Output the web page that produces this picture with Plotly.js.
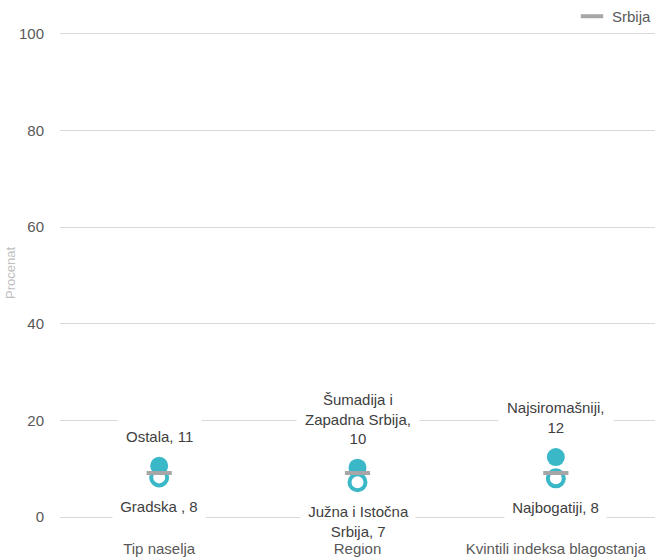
<!DOCTYPE html>
<html>
<head>
<meta charset="utf-8">
<script src="https://cdn.plot.ly/plotly-3.0.1.min.js"></script>
<style>body{margin:0;padding:0;background:#fff}#chart{width:657px;height:559px}</style>
</head>
<body>
<div id="chart"></div>
<script>
const categories = ["Tip naselja", "Region", "Kvintili indeksa blagostanja"];
const highValues = [10.6, 10.2, 12.4];
const lowValues = [8.2, 7.2, 8.0];
const srbijaValues = [9.1, 9.1, 9.1];
const highLabels = ["Ostala, 11", "Šumadija i<br>Zapadna Srbija,<br>10", "Najsiromašniji,<br>12"];
const lowLabels = ["Gradska , 8", "Južna i Istočna<br>Srbija, 7", "Najbogatiji, 8"];

const teal = "#3bb8c7";
const grey = "#a6a6a6";
const font = "Liberation Sans, Arial, sans-serif";

const traces = [
  {x: categories, y: highValues, type: "scatter", mode: "markers", showlegend: false,
   marker: {symbol: "circle", size: 18, color: teal}, hoverinfo: "skip"},
  {x: categories, y: lowValues, type: "scatter", mode: "markers", showlegend: false,
   marker: {symbol: "circle", size: 16, color: "#ffffff", line: {color: teal, width: 4}}, hoverinfo: "skip"},
  {x: categories, y: srbijaValues, type: "scatter", mode: "markers", name: "Srbija",
   marker: {symbol: "line-ew", size: 18, color: grey, line: {color: grey, width: 4}}}
];

const annotations = [];
categories.forEach((c, i) => {
  annotations.push({x: c, y: highValues[i], xref: "x", yref: "y", text: highLabels[i], showarrow: false,
    yanchor: "bottom", yshift: 12, bgcolor: "#ffffff", borderpad: 8,
    font: {family: font, size: 15, color: "#404040"}});
  annotations.push({x: c, y: lowValues[i], xref: "x", yref: "y", text: "\u00a0" + lowLabels[i].split("<br>").join("\u00a0<br>\u00a0") + "\u00a0", showarrow: false,
    yanchor: "top", yshift: -17, bgcolor: "#ffffff", borderpad: 3,
    font: {family: font, size: 15, color: "#404040"}});
});

const layout = {
  width: 657, height: 559,
  margin: {l: 60, r: 2, t: 29, b: 42, pad: 0, autoexpand: false},
  paper_bgcolor: "#ffffff", plot_bgcolor: "#ffffff",
  font: {family: font, color: "#595959", size: 15},
  showlegend: true,
  legend: {xref: "container", yref: "container", x: 1, xanchor: "right", y: 1, yanchor: "top", orientation: "h",
    font: {family: font, size: 15, color: "#595959"}, bgcolor: "rgba(0,0,0,0)",
    itemwidth: 30, tracegroupgap: 0},
  xaxis: {type: "category", range: [-0.5, 2.5], showgrid: false, zeroline: false, showline: false,
    ticks: "outside", ticklen: 18, tickcolor: "rgba(0,0,0,0)",
    tickfont: {family: font, size: 15, color: "#595959"}},
  yaxis: {range: [0, 101], tickvals: [0, 20, 40, 60, 80, 100], showgrid: true, gridcolor: "#d9d9d9", gridwidth: 1,
    zeroline: true, zerolinecolor: "#d9d9d9", zerolinewidth: 1, showline: false,
    ticks: "outside", ticklen: 12, tickcolor: "rgba(0,0,0,0)",
    tickfont: {family: font, size: 15, color: "#595959"},
    title: {text: "Procenat", font: {family: font, size: 13, color: "#bfbfbf"}, standoff: 0}},
  annotations: annotations
};

Plotly.newPlot("chart", traces, layout, {displayModeBar: false, staticPlot: true});
</script>
</body>
</html>
